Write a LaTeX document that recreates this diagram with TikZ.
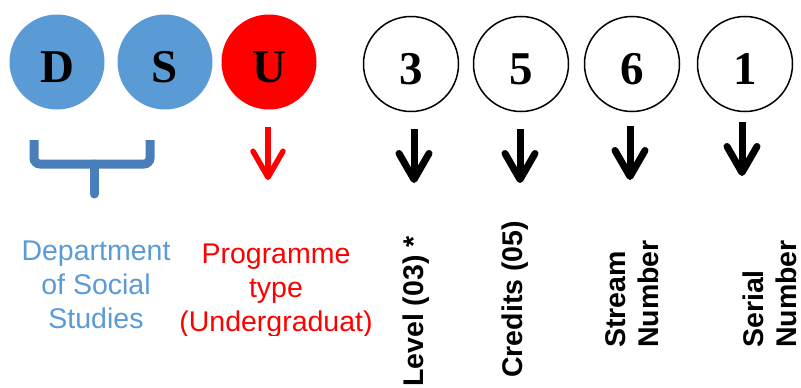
\documentclass[tikz,border=0pt]{standalone}
\usepackage{fontspec}
\setmainfont{Liberation Sans}
\newfontfamily\letterfont{Liberation Serif}
\usetikzlibrary{arrows.meta}

\definecolor{dssblue}{HTML}{5B9BD5}
\definecolor{braceblue}{HTML}{4A7EBB}

\begin{document}
\begin{tikzpicture}[x=1pt, y=-1pt,
  letter/.style={circle, minimum size=95pt, inner sep=0pt, text height=41pt, text depth=0pt,
    font=\letterfont\bfseries\fontsize{47}{47}\selectfont},
  digit/.style={letter, draw, line width=1.5pt},
  pick/.style={line width=7pt, -{Straight Barb[round, length=26pt, width=30pt]}},
  vlab/.style={rotate=90, anchor=base west, inner sep=0pt, align=left,
    font=\bfseries\fontsize{28.5}{33}\selectfont},
  note/.style={align=center, inner sep=0pt, font=\fontsize{28.5}{34}\selectfont}]
\useasboundingbox (0,0) rectangle (801,388);
\node[letter, fill=dssblue] (d) at (57,62) {D};
\node[letter, fill=dssblue] (s) at (165,62) {S};
\node[letter, fill=red] (u) at (269,62) {U};
\node[digit] (c3) at (411,64) {3};
\node[digit] (c5) at (521,64) {5};
\node[digit] (c6) at (632,64) {6};
\node[digit] (c1) at (745,64) {1};
% brace under D and S
\draw[braceblue, line width=9pt, rounded corners=6pt] (34,140) -- (34,164) -- (150,164) -- (150,140);
\draw[braceblue, line width=9pt, line cap=round] (94,164) -- (94,194);
% arrows
\coordinate (ut) at (268,127);
\coordinate (uh) at (268,180);
\draw[pick, red, line width=5.5pt] (ut) -- (uh);
\foreach \n/\x/\t/\b in {3/414/129/183, 5/520/129/183, 6/630/126/180, 1/742/122/176} {
  \coordinate (t\n) at (\x,\t);
  \coordinate (h\n) at (\x,\b);
  \draw[pick] (t\n) -- (h\n);
}
% texts
\node[note, text=dssblue] (dept) at (96,285) {Department\\of Social\\Studies};
\begin{scope}
\clip (170,225) rectangle (385,335);
\node[note, text=red] (prog) at (276,291) {Programme\\type\\(Undergraduat)};
\end{scope}
\node[vlab] (lvl) at (423,387) {Level (03) *};
\node[vlab] (cred) at (522,378) {Credits (05)};
\node[vlab] (strm) at (658,348) {Stream\\Number};
\node[vlab] (ser) at (796,348) {Serial\\Number};
\end{tikzpicture}
\end{document}
